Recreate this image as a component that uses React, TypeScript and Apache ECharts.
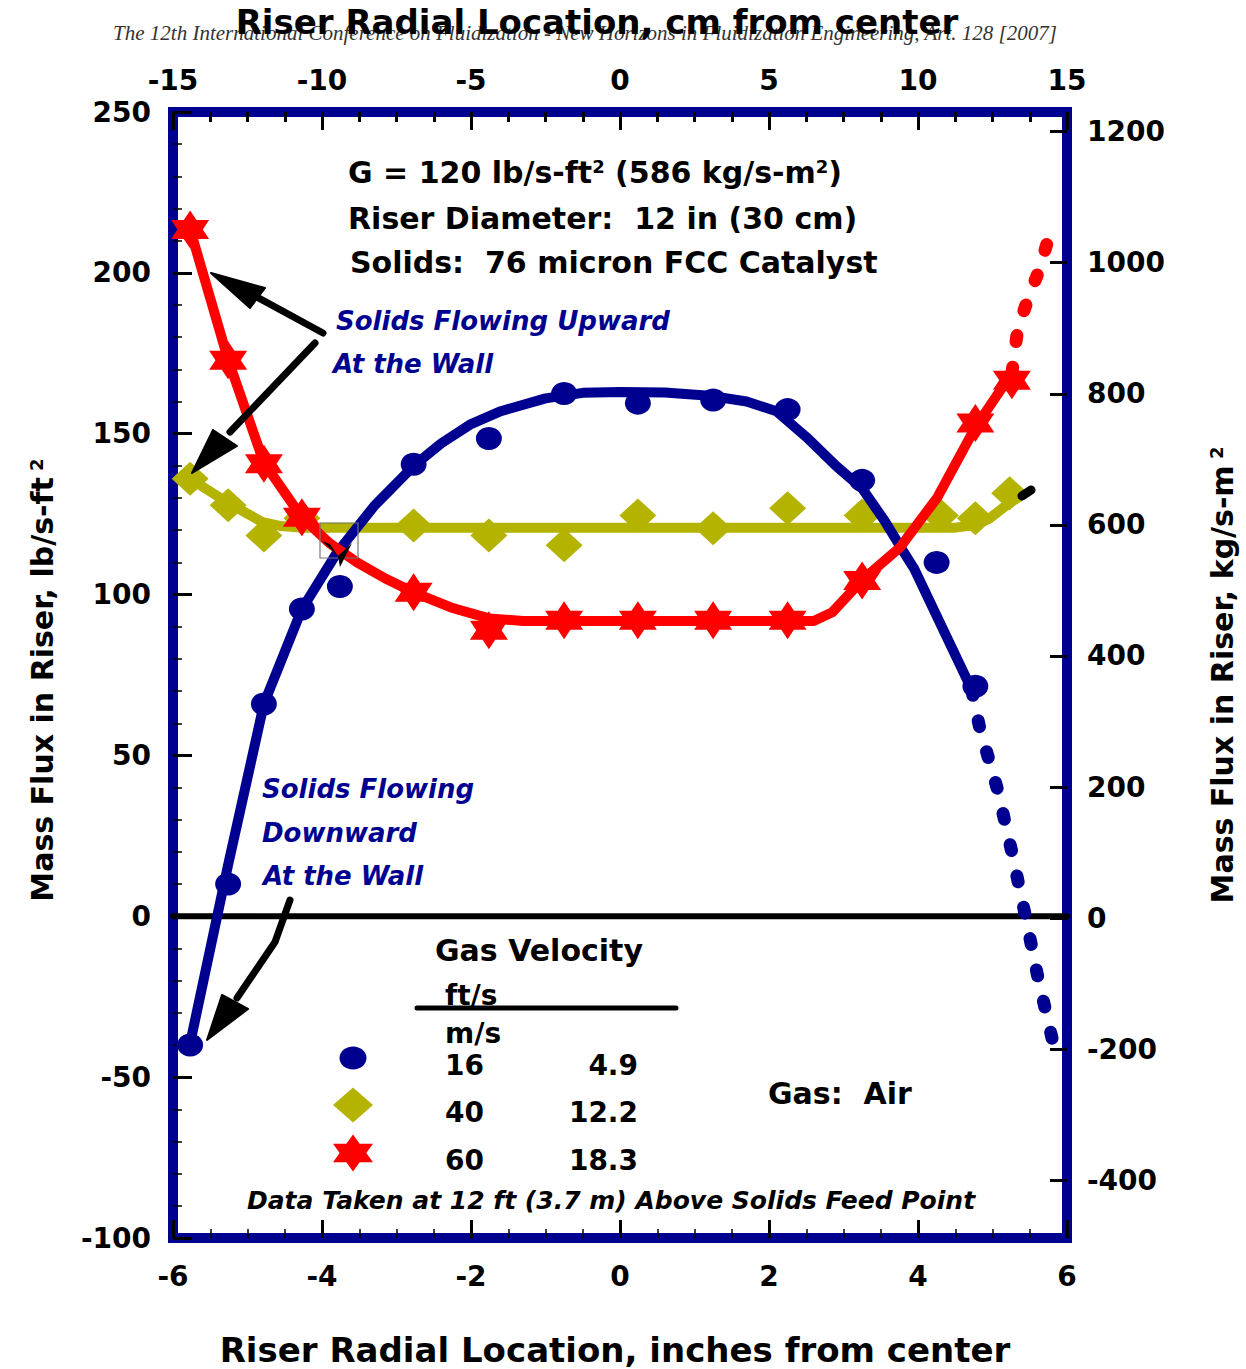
import React, { useEffect, useRef } from 'react';
import * as echarts from 'echarts';

// ---------- data (x: inches from center, y: lb/s-ft2) ----------
const BLUE_POINTS = [
  [-5.77, -40], [-5.26, 10], [-4.78, 66], [-4.27, 95.5], [-3.76, 102.5], [-2.77, 140.5],
  [-1.76, 148.5], [-0.75, 162.5], [0.24, 159.5], [1.25, 160.5], [2.25, 157.5], [3.25, 135.5],
  [4.25, 110], [4.77, 71.5],
];
const BLUE_FIT = [
  [-5.77, -39.5], [-5.26, 16], [-4.78, 66], [-4.27, 95.5], [-3.8, 113], [-3.3, 127.5],
  [-2.77, 140], [-2.4, 147], [-2.0, 153], [-1.6, 157], [-1.0, 161], [-0.5, 162.7], [0, 163],
  [0.6, 162.8], [1.2, 161.8], [1.7, 160], [2.1, 157], [2.5, 149], [2.9, 140], [3.25, 133],
  [3.55, 123], [3.8, 113.5], [3.95, 108], [4.72, 70.5],
];
const BLUE_EXTRAP = [
  [4.72, 70.5], [4.83, 58.4], [5.07, 39.2], [5.26, 19.9], [5.44, 0.3], [5.61, -19], [5.8, -38],
];

const OLIVE_POINTS = [
  [-5.77, 136], [-5.26, 127.8], [-4.78, 118.4], [-4.27, 123.7], [-2.77, 121.5], [-1.76, 118.4],
  [-0.75, 115.3], [0.24, 124.6], [1.25, 120.6], [2.25, 126.8], [3.25, 124.6], [4.3, 124.6],
  [4.77, 123.7], [5.23, 131.5],
];
const OLIVE_FIT = [
  [-5.77, 136], [-5.26, 128.5], [-4.8, 122.5], [-4.55, 121.3], [-4.25, 120.8], [4.5, 120.8],
  [4.75, 121.5], [4.95, 123.5], [5.2, 128], [5.4, 131],
];

const RED_POINTS = [
  [-5.77, 213.5], [-5.26, 172.8], [-4.78, 140.7], [-4.27, 124], [-2.77, 100.7], [-1.76, 88.9],
  [-0.75, 92], [0.24, 92], [1.25, 92], [2.25, 92], [3.25, 104.4], [4.77, 153.3], [5.26, 166.6],
];
const RED_FIT = [
  [-5.77, 213.5], [-5.26, 173], [-4.78, 141], [-4.27, 124], [-3.9, 116], [-3.53, 110],
  [-3.15, 105], [-2.77, 100.7], [-2.27, 96], [-1.76, 92.6], [-1.3, 91.8], [2.6, 91.8],
  [2.85, 94.5], [3.25, 104.5], [3.76, 114.7], [4.26, 130.2], [4.77, 152], [5.26, 168.8],
];
const RED_EXTRAP = [
  [5.26, 168.8], [5.34, 182.8], [5.48, 192.1], [5.64, 201.7], [5.77, 212.3],
];

const ZERO_LINE = [[-6, 0], [6, 0]];

const RIGHT_TICKS = [-400, -200, 0, 200, 400, 600, 800, 1000, 1200];
const RIGHT_MIN = -488;
const RIGHT_MAX = 1230;

const LEGEND_FTS = ['16', '40', '60'];
const LEGEND_MS = ['4.9', '12.2', '18.3'];

// ---------- styles ----------
const BLUE = '#000090';
const OLIVE = '#B3B300';
const RED = '#FF0000';
const SANS = 'DejaVu Sans';

const STAR_UNIT = [
  [0, -1], [0.2887, -0.5], [0.866, -0.5], [0.5774, 0], [0.866, 0.5], [0.2887, 0.5],
  [0, 1], [-0.2887, 0.5], [-0.866, 0.5], [-0.5774, 0], [-0.866, -0.5], [-0.2887, -0.5],
];
const STAR_PATH =
  'path://' + STAR_UNIT.map((p, i) => (i === 0 ? 'M' : 'L') + p[0] + ',' + p[1]).join('') + 'Z';

const labelStyle = { color: '#000', fontFamily: SANS, fontWeight: 'bold', fontSize: 28 };
const plainNum = (v: number) => String(v);

function boldText(text: string, x: number, y: number, size: number, extra: any = {}) {
  return {
    type: 'text',
    x,
    y,
    z: 100,
    style: {
      text,
      fill: '#000',
      fontFamily: SANS,
      fontWeight: 'bold',
      fontSize: size,
      align: 'left',
      verticalAlign: 'middle',
      ...extra,
    },
  };
}

function blueText(text: string, x: number, y: number, size = 26) {
  return boldText(text, x, y, size, { fill: BLUE, fontStyle: 'italic' });
}

export default function App() {
  const ref = useRef<HTMLDivElement>(null);

  useEffect(() => {
    document.body.style.margin = '0';
    const chart = echarts.init(ref.current!, null, { renderer: 'svg' });

    const sup = { fontSize: 18, fontFamily: SANS, fontWeight: 'bold', fill: '#000', verticalAlign: 'top' };
    const main30 = { fontSize: 30, fontFamily: SANS, fontWeight: 'bold', fill: '#000' };

    const legendRowsY = [1058, 1105, 1153];
    const legendTextY = [1065, 1112, 1160];
    const legendGraphics: any[] = [];
    legendGraphics.push({
      type: 'ellipse', z: 100,
      shape: { cx: 353, cy: legendRowsY[0], rx: 13.5, ry: 11.5 },
      style: { fill: BLUE },
    });
    legendGraphics.push({
      type: 'polygon', z: 100,
      shape: {
        points: [[353, legendRowsY[1] - 17.5], [373, legendRowsY[1]], [353, legendRowsY[1] + 17.5], [333, legendRowsY[1]]],
      },
      style: { fill: OLIVE },
    });
    legendGraphics.push({
      type: 'polygon', z: 100,
      shape: { points: STAR_UNIT.map(([u, v]) => [353 + (u / 0.866) * 20, legendRowsY[2] + v * 18.5]) },
      style: { fill: RED },
    });
    LEGEND_FTS.forEach((t, i) => legendGraphics.push(boldText(t, 445, legendTextY[i], 28)));
    LEGEND_MS.forEach((t, i) => legendGraphics.push(boldText(t, 638, legendTextY[i], 28, { align: 'right' })));

    const hiddenLine = { show: false, onZero: false };

    const option: any = {
      animation: false,
      backgroundColor: '#ffffff',
      grid: {
        left: 173, right: 179, top: 112, bottom: 131,
        show: true, borderColor: BLUE, borderWidth: 10, backgroundColor: 'rgba(0,0,0,0)',
        containLabel: false, outerBoundsMode: 'none',
      },
      xAxis: [
        {
          type: 'value', position: 'bottom', min: -6, max: 6, interval: 2,
          axisLine: hiddenLine,
          splitLine: { show: false },
          axisTick: { show: true, inside: true, length: 18, lineStyle: { color: '#000', width: 3 } },
          minorTick: { show: true, splitNumber: 4, length: 9, lineStyle: { color: '#000', width: 1.5 } },
          axisLabel: { ...labelStyle, margin: 24, showMinLabel: true, showMaxLabel: true, formatter: plainNum },
        },
        {
          type: 'value', position: 'top', min: -15, max: 15, interval: 5,
          axisLine: hiddenLine,
          splitLine: { show: false },
          axisTick: { show: true, inside: true, length: 18, lineStyle: { color: '#000', width: 3 } },
          minorTick: { show: true, splitNumber: 4, length: 10, lineStyle: { color: '#000', width: 3 } },
          axisLabel: { ...labelStyle, margin: 18, showMinLabel: true, showMaxLabel: true, formatter: plainNum },
        },
      ],
      yAxis: [
        {
          type: 'value', position: 'left', min: -100, max: 250, interval: 50,
          axisLine: hiddenLine,
          splitLine: { show: false },
          axisTick: { show: true, inside: true, length: 19, lineStyle: { color: '#000', width: 3 } },
          minorTick: { show: true, splitNumber: 5, length: 9, lineStyle: { color: '#000', width: 1.5 } },
          axisLabel: { ...labelStyle, margin: 22, showMinLabel: true, showMaxLabel: true, formatter: plainNum },
        },
        {
          type: 'value', position: 'right', min: RIGHT_MIN, max: RIGHT_MAX,
          axisLine: hiddenLine,
          splitLine: { show: false },
          axisTick: { show: true, inside: true, length: 17, customValues: RIGHT_TICKS, lineStyle: { color: '#000', width: 3 } },
          axisLabel: { ...labelStyle, margin: 20, customValues: RIGHT_TICKS, formatter: plainNum },
        },
      ],
      series: [
        {
          type: 'line', data: ZERO_LINE, symbol: 'none', z: 1, silent: true,
          lineStyle: { color: '#000', width: 6, cap: 'round' },
        },
        {
          type: 'line', data: OLIVE_FIT, symbol: 'none', z: 2, smooth: false,
          lineStyle: { color: OLIVE, width: 10, join: 'round', cap: 'round' },
        },
        {
          type: 'scatter', data: OLIVE_POINTS, symbol: 'diamond', symbolSize: [37, 34], z: 2,
          itemStyle: { color: OLIVE, opacity: 1 },
        },
        {
          type: 'line', data: BLUE_FIT, symbol: 'none', z: 3, smooth: false,
          lineStyle: { color: BLUE, width: 10, join: 'round', cap: 'round' },
        },
        {
          type: 'line', data: BLUE_EXTRAP, symbol: 'none', z: 3, smooth: false,
          lineStyle: { color: BLUE, width: 13, type: [6, 26], cap: 'round' },
        },
        {
          type: 'scatter', data: BLUE_POINTS, symbol: 'circle', symbolSize: [26, 23], z: 3,
          itemStyle: { color: BLUE, opacity: 1 },
        },
        {
          type: 'line', data: RED_FIT, symbol: 'none', z: 4, smooth: false,
          lineStyle: { color: RED, width: 10, join: 'round', cap: 'round' },
        },
        {
          type: 'line', data: RED_EXTRAP, symbol: 'none', z: 4, smooth: false,
          lineStyle: { color: RED, width: 13, type: [6, 26], cap: 'round' },
        },
        {
          type: 'scatter', data: RED_POINTS, symbol: STAR_PATH, symbolSize: [38, 38], z: 4,
          itemStyle: { color: RED, opacity: 1 },
        },
      ],
      graphic: {
        elements: [
          {
            type: 'text', x: 585, y: 33, z: 90,
            style: {
              text: 'The 12th International Conference on Fluidization - New Horizons in Fluidization Engineering, Art. 128 [2007]',
              fill: '#333', fontFamily: 'Liberation Serif', fontStyle: 'italic', fontSize: 21,
              align: 'center', verticalAlign: 'middle',
            },
          },
          boldText('Riser Radial Location, cm from center', 597, 22, 34, { align: 'center' }),
          boldText('Riser Radial Location, inches from center', 615, 1350, 34, { align: 'center' }),
          {
            type: 'text', x: 42, y: 680, rotation: Math.PI / 2, z: 100,
            style: {
              text: '{t|Mass Flux in Riser, lb/s-ft}{s| 2}',
              rich: { t: main30, s: sup },
              align: 'center', verticalAlign: 'middle',
            },
          },
          {
            type: 'text', x: 1222, y: 675, rotation: Math.PI / 2, z: 100,
            style: {
              text: '{t|Mass Flux in Riser, kg/s-m}{s| 2}',
              rich: { t: main30, s: sup },
              align: 'center', verticalAlign: 'middle',
            },
          },
          {
            type: 'text', x: 348, y: 172, z: 100,
            style: {
              text: '{t|G = 120 lb/s-ft}{s|2}{t| (586 kg/s-m}{s|2}{t|)}',
              rich: { t: main30, s: sup },
              align: 'left', verticalAlign: 'middle',
            },
          },
          boldText('Riser Diameter:  12 in (30 cm)', 348, 218, 30),
          boldText('Solids:  76 micron FCC Catalyst', 350, 262, 30),
          blueText('Solids Flowing Upward', 336, 321),
          blueText('At the Wall', 333, 364),
          blueText('Solids Flowing', 262, 789),
          blueText('Downward', 262, 833),
          blueText('At the Wall', 263, 876),
          {
            type: 'line', z: 95,
            shape: { x1: 323, y1: 333, x2: 240, y2: 288 },
            style: { stroke: '#000', lineWidth: 7, lineCap: 'round' },
          },
          {
            type: 'polygon', z: 95,
            shape: { points: [[211, 273], [265, 288], [250, 308]] },
            style: { fill: '#000', stroke: '#000', lineWidth: 2, lineJoin: 'round' },
          },
          {
            type: 'line', z: 95,
            shape: { x1: 315, y1: 343, x2: 230, y2: 432 },
            style: { stroke: '#000', lineWidth: 7, lineCap: 'round' },
          },
          {
            type: 'polygon', z: 95,
            shape: { points: [[192, 473], [213, 430], [237, 446]] },
            style: { fill: '#000', stroke: '#000', lineWidth: 2, lineJoin: 'round' },
          },
          {
            type: 'polyline', z: 95,
            shape: { points: [[290, 900], [275, 942], [237, 998]] },
            style: { stroke: '#000', lineWidth: 7, lineCap: 'round', lineJoin: 'round', fill: null },
          },
          {
            type: 'polygon', z: 95,
            shape: { points: [[207, 1040], [222, 995], [248, 1009]] },
            style: { fill: '#000', stroke: '#000', lineWidth: 2, lineJoin: 'round' },
          },
          {
            type: 'rect', z: 96,
            shape: { x: 320, y: 523, width: 38, height: 35 },
            style: { fill: null, stroke: '#777', lineWidth: 1.2 },
          },
          {
            type: 'polygon', z: 96,
            shape: { points: [[322, 541], [338, 556], [330, 544]] },
            style: { fill: '#000' },
          },
          {
            type: 'polygon', z: 96,
            shape: { points: [[338, 556], [352, 543], [340, 567]] },
            style: { fill: '#000' },
          },
          {
            type: 'line', z: 96,
            shape: { x1: 1022, y1: 496, x2: 1031, y2: 490 },
            style: { stroke: '#000', lineWidth: 9, lineCap: 'round' },
          },
          boldText('Gas Velocity', 435, 950, 30),
          boldText('ft/s', 445, 995, 28),
          {
            type: 'line', z: 100,
            shape: { x1: 417, y1: 1008, x2: 676, y2: 1008 },
            style: { stroke: '#000', lineWidth: 5, lineCap: 'round' },
          },
          boldText('m/s', 445, 1033, 28),
          ...legendGraphics,
          boldText('Gas:  Air', 768, 1093, 30),
          boldText('Data Taken at 12 ft (3.7 m) Above Solids Feed Point', 247, 1200, 25, { fontStyle: 'italic' }),
        ],
      },
    };

    chart.setOption(option);
    return () => {
      chart.dispose();
    };
  }, []);

  return <div ref={ref} style={{ width: 1246, height: 1369 }} />;
}
